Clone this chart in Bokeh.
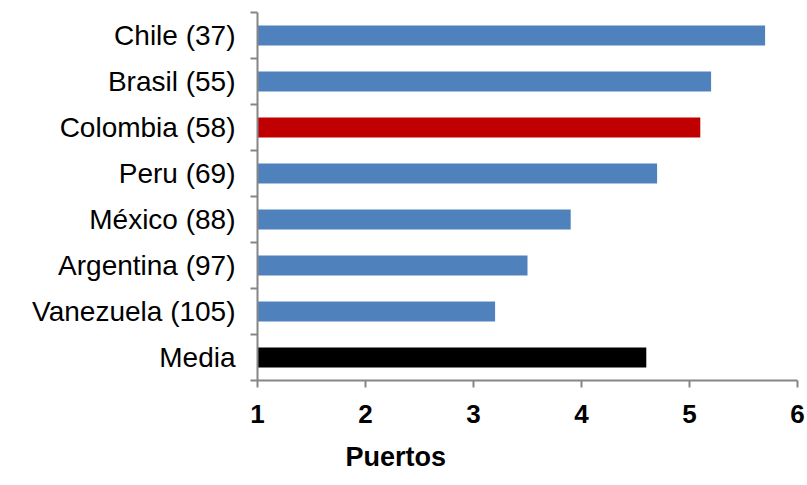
from bokeh.plotting import figure
from bokeh.models import FixedTicker, Range1d, Title, ColumnDataSource
from bokeh.embed import file_html
from bokeh.resources import INLINE

# Data (top to bottom in the chart)
countries = ["Chile (37)", "Brasil (55)", "Colombia (58)", "Peru (69)",
             "México (88)", "Argentina (97)", "Vanezuela (105)", "Media"]
values = [5.7, 5.2, 5.1, 4.7, 3.9, 3.5, 3.2, 4.6]
bar_colors = ["#4F81BD", "#4F81BD", "#C00000", "#4F81BD",
              "#4F81BD", "#4F81BD", "#4F81BD", "#000000"]
x_ticks = [1, 2, 3, 4, 5, 6]
x_title = "Puertos"

n = len(countries)
ypos = [n - 0.5 - i for i in range(n)]
source = ColumnDataSource(dict(y=ypos, right=values, left=[1] * n,
                               color=bar_colors, name=countries))

p = figure(width=805, height=485, output_backend="svg", toolbar_location=None,
           x_range=Range1d(1, 6), y_range=Range1d(0, n),
           min_border_left=257, min_border_right=8, min_border_top=12,
           min_border_bottom=105)
p.outline_line_color = None
p.grid.visible = False
p.background_fill_color = "white"

p.hbar(y="y", left="left", right="right", height=0.43, color="color",
       line_color=None, source=source)

axis_gray = "#868686"

xa = p.xaxis[0]
xa.ticker = FixedTicker(ticks=x_ticks, minor_ticks=[])
xa.axis_line_color = axis_gray
xa.axis_line_width = 2
xa.major_tick_line_color = axis_gray
xa.major_tick_line_width = 2
xa.major_tick_out = 7
xa.major_tick_in = 0
xa.minor_tick_line_color = None
xa.major_label_text_font = "Liberation Sans"
xa.major_label_text_font_size = "26px"
xa.major_label_text_font_style = "bold"
xa.major_label_text_color = "black"
xa.major_label_standoff = 17

ya = p.yaxis[0]
ya.ticker = FixedTicker(ticks=ypos, minor_ticks=list(range(n + 1)))
ya.major_label_overrides = {yy: c for yy, c in zip(ypos, countries)}
ya.axis_line_color = axis_gray
ya.axis_line_width = 2
ya.major_tick_line_color = None
ya.major_tick_out = 0
ya.major_tick_in = 0
ya.minor_tick_line_color = axis_gray
ya.minor_tick_line_width = 2
ya.minor_tick_out = 7
ya.minor_tick_in = 0
ya.major_label_text_font = "Liberation Sans"
ya.major_label_text_font_size = "28px"
ya.major_label_text_color = "black"
ya.major_label_standoff = 15

p.add_layout(Title(text=x_title, align="left", offset=88,
                   text_font="Liberation Sans", text_font_size="27px",
                   text_font_style="bold", text_color="black",
                   standoff=28), "below")

open("out.html", "w").write(file_html(p, INLINE))
